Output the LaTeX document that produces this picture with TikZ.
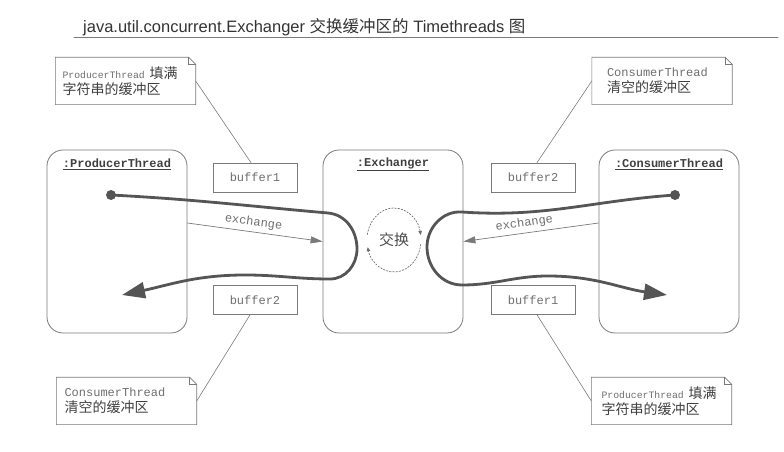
\documentclass[tikz,border=0pt]{standalone}
\usepackage{fontspec}
\setmainfont{Liberation Sans}
\setmonofont{Liberation Mono}
\newfontfamily\cjk{Noto Sans CJK SC}
\usepackage{xcolor}
\usetikzlibrary{arrows.meta}
\definecolor{linegray}{HTML}{7A7A7A}
\definecolor{pathgray}{HTML}{555555}
\definecolor{textgray}{HTML}{6E6E6E}

\begin{document}
\begin{tikzpicture}[x=1pt,y=1pt,line cap=round,
  threadbox/.style={draw=linegray,line width=0.8pt,rounded corners=16pt,minimum width=140pt,minimum height=183pt},
  threadtitle/.style={font=\ttfamily\bfseries\fontsize{12}{14}\selectfont,text=black!75,inner sep=0pt},
  bufbox/.style={draw=linegray,line width=0.7pt,minimum width=84pt,minimum height=29pt,font=\ttfamily\fontsize{12}{14}\selectfont,text=textgray},
  notebox/.style={minimum width=139pt,minimum height=47pt,text width=126pt,inner xsep=7pt,align=left,font=\cjk\fontsize{14}{16}\selectfont,text=black!75},
  leader/.style={draw=linegray,line width=0.6pt},
  msgarrow/.style={draw=linegray,line width=0.7pt,-{Triangle[length=12pt,width=7pt]}},
  msglabel/.style={font=\ttfamily\fontsize{12}{14}\selectfont,text=textgray,sloped,above},
  timethread/.style={draw=pathgray,line width=2.8pt,-{Triangle[length=23pt,width=16pt]}},
  swaparc/.style={draw=linegray!90!black,line width=0.7pt,dash pattern=on 1.6pt off 1.6pt,-{Triangle[length=4pt,width=3.5pt]}}]
  \useasboundingbox (0,0) rectangle (784,452);

  % --- title ---
  \node[anchor=base west,inner sep=0pt,font=\fontsize{16.5}{18}\selectfont,text=black!80] (title) at (83,419)
    {java.util.concurrent.Exchanger {\cjk 交换缓冲区的} Timethreads {\cjk 图}};
  \draw[linegray,line width=0.8pt] (74,414.5) -- (778,414.5);

  % --- threads ---
  \node[threadbox] (producer) at (117,210.5) {};
  \node[threadbox] (exchanger) at (393,210.5) {};
  \node[threadbox] (consumer) at (669,210.5) {};
  \node[threadtitle] (producerTitle) at ([yshift=-15pt]producer.north) {\underline{:ProducerThread}};
  \node[threadtitle] (exchangerTitle) at ([yshift=-15pt]exchanger.north) {\underline{:Exchanger}};
  \node[threadtitle] (consumerTitle) at ([yshift=-15pt]consumer.north) {\underline{:ConsumerThread}};

  % --- buffers ---
  \node[bufbox] (bufOneL) at (255,274.5) {buffer1};
  \node[bufbox] (bufTwoL) at (255,152) {buffer2};
  \node[bufbox] (bufTwoR) at (533,274.5) {buffer2};
  \node[bufbox] (bufOneR) at (533,152) {buffer1};

  % --- notes ---
  \node[notebox] (noteTL) at (125.5,371)
    {{\ttfamily\fontsize{9.8}{16}\selectfont\color{textgray}ProducerThread} 填满\\字符串的缓冲区};
  \node[notebox,inner xsep=15pt,text width=110pt] (noteTR) at (662,371)
    {{\ttfamily\fontsize{12}{16}\selectfont\color{textgray}ConsumerThread}\\清空的缓冲区};
  \node[notebox,inner xsep=8pt,text width=124pt] (noteBL) at (126.5,51)
    {{\ttfamily\fontsize{12}{16}\selectfont\color{textgray}ConsumerThread}\\清空的缓冲区};
  \node[notebox,inner xsep=10pt,text width=120pt] (noteBR) at (661.5,51)
    {{\ttfamily\fontsize{9.8}{16}\selectfont\color{textgray}ProducerThread} 填满\\字符串的缓冲区};
  \foreach \n in {noteTL,noteTR,noteBL,noteBR}{
    \draw[leader] (\n.north west) -- ([xshift=-7pt]\n.north east) -- ([yshift=-7pt]\n.north east)
      -- (\n.south east) -- (\n.south west) -- cycle;
    \draw[leader] ([xshift=-7pt]\n.north east) |- ([yshift=-7pt]\n.north east);
  }

  % note leaders
  \draw[leader] (noteTL.east) -- ([xshift=-4pt]bufOneL.north);
  \draw[leader] (noteTR.west) -- ([xshift=4pt]bufTwoR.north);
  \draw[leader] ([xshift=-5pt]bufTwoL.south) -- (noteBL.east);
  \draw[leader] ([xshift=4pt]bufOneR.south) -- (noteBR.west);

  % --- exchange calls ---
  \draw[msgarrow] ([yshift=18.5pt]producer.east) -- (exchanger.west) node[msglabel,pos=0.48] {exchange};
  \draw[msgarrow] ([yshift=18.5pt]consumer.west) -- (exchanger.east) node[msglabel,pos=0.54] {exchange};

  % swap inside the exchanger
  \coordinate (swapC) at (394,212);
  \node[font=\cjk\fontsize{15}{15}\selectfont,text=black!70] (swapLabel) at (swapC) {交换};
  \draw[swaparc] ([shift={(170:27pt and 32pt)}]swapC) arc[start angle=170,end angle=9,x radius=27pt,y radius=32pt];
  \draw[swaparc] ([shift={(-8:27pt and 32pt)}]swapC) arc[start angle=-8,end angle=-167,x radius=27pt,y radius=32pt];

  % --- timethreads ---
  \node[circle,fill=pathgray,inner sep=0pt,minimum size=10pt] (dotProd) at (111,257) {};
  \node[circle,fill=pathgray,inner sep=0pt,minimum size=10pt] (dotCons) at (675,257) {};
  \coordinate (tipProd) at (122,157);
  \coordinate (tipCons) at (667,157);

  \draw[timethread] (dotProd.center) to[out=-3,in=175] (328,239) to[out=-5,in=90] (357,203)
    to[out=-90,in=0] (330,173) to[out=180,in=0] (245,177) to[out=180,in=12] (tipProd);
  \draw[timethread] (dotCons.center) to[out=184,in=-4] (462,240) to[out=176,in=90] (427,205)
    to[out=-90,in=180] (462,167) to[out=0,in=180] (548,176) to[out=0,in=172] (tipCons);
\end{tikzpicture}
\end{document}
